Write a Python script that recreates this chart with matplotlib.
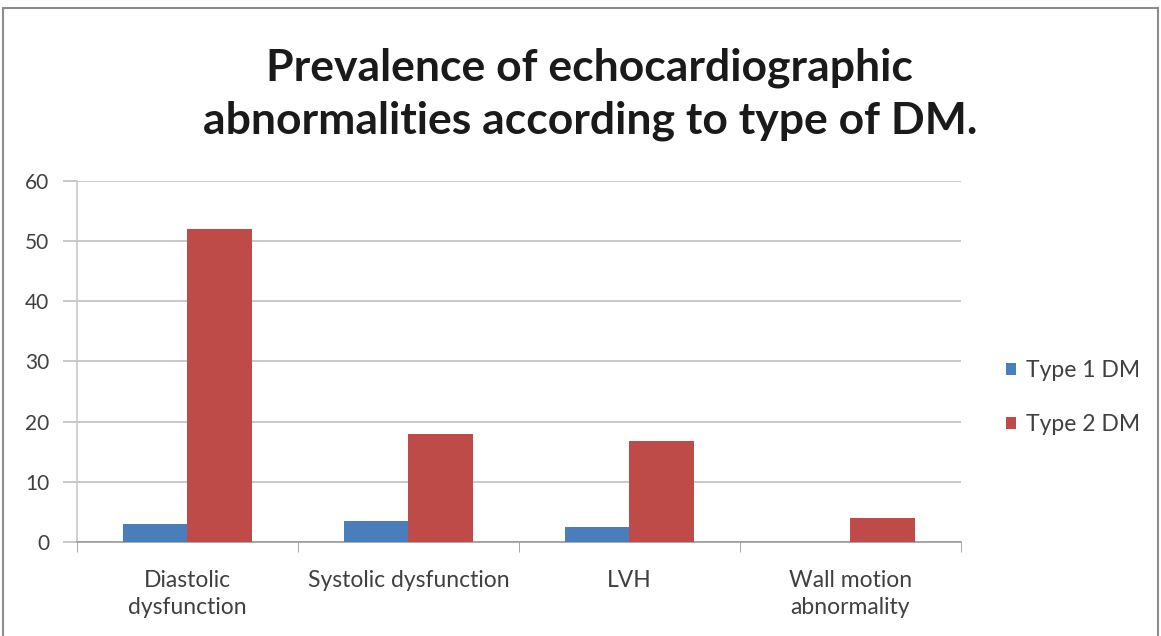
import numpy as np
import matplotlib
matplotlib.use("Agg")
import matplotlib.pyplot as plt
from matplotlib.patches import Rectangle

# ---- Data -------------------------------------------------------------------
categories = ["Diastolic\ndysfunction", "Systolic dysfunction", "LVH",
              "Wall motion\nabnormality"]
type1_dm = [3.0, 3.5, 2.5, 0.0]
type2_dm = [52.0, 18.0, 16.7, 4.0]
y_ticks = [0, 10, 20, 30, 40, 50, 60]

BLUE = "#4a7ebb"
RED = "#be4b48"
TEXT = "#404040"

plt.rcParams["font.family"] = ["Lato", "DejaVu Sans"]

fig = plt.figure(figsize=(11.61, 6.36), dpi=100)
ax = fig.add_axes([0.0663, 0.148, 0.7614, 0.5674])

# outer frame of the chart area
fig.patches.append(Rectangle((0.003, -0.01), 0.994, 0.998, transform=fig.transFigure,
                             fill=False, edgecolor="#8c8c8c", linewidth=1.5))

x = np.arange(len(categories))
w = 0.29
ax.bar(x - w / 2, type1_dm, w, color=BLUE, label="Type 1 DM", zorder=3)
ax.bar(x + w / 2, type2_dm, w, color=RED, label="Type 2 DM", zorder=3)

ax.set_xlim(-0.5, len(categories) - 0.5)
ax.set_ylim(0, 60)
ax.set_yticks(y_ticks)
ax.set_yticklabels([str(t) for t in y_ticks], fontsize=15, color=TEXT)
ax.tick_params(axis="y", length=10, color="#bfbfbf", width=1.2, pad=10)

# category labels centered, tick marks at category boundaries
ax.set_xticks(x)
ax.set_xticklabels(categories, fontsize=16.5, color=TEXT, linespacing=1.4)
ax.tick_params(axis="x", length=0, pad=20)
ax.set_xticks(np.arange(-0.5, len(categories) + 0.5, 1), minor=True)
ax.tick_params(axis="x", which="minor", length=7, color="#999999")

ax.grid(axis="y", color="#bfbfbf", linewidth=1.2, zorder=0)
for s in ["top", "right"]:
    ax.spines[s].set_visible(False)
ax.spines["left"].set_color("#c8c8c8")
ax.spines["left"].set_linewidth(1.2)
ax.spines["bottom"].set_color("#999999")
ax.spines["bottom"].set_linewidth(1.2)

fig.text(0.508, 0.852, "Prevalence of echocardiographic\nabnormalities according to type of DM.",
         ha="center", va="center", fontsize=32, fontweight="bold", color="#1a1a1a",
         linespacing=1.4)

ax.legend(loc="center left", bbox_to_anchor=(1.051, 0.4), frameon=False,
          borderaxespad=0, borderpad=0,
          fontsize=16.5, handlelength=0.45, handleheight=0.45, handletextpad=0.4,
          labelspacing=1.45, labelcolor=TEXT)

fig.savefig("out.png", dpi=100)
